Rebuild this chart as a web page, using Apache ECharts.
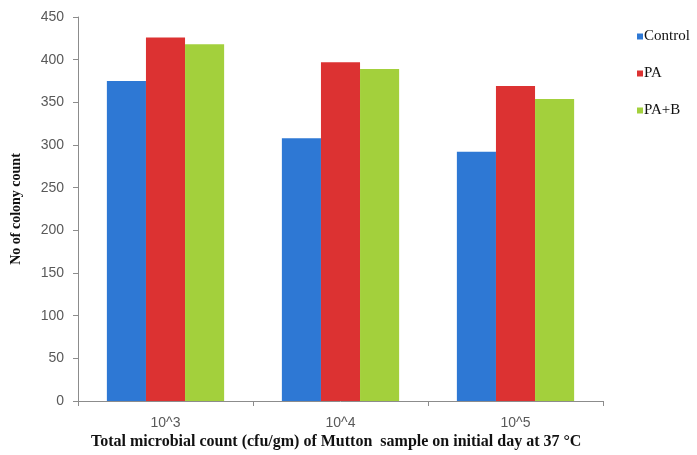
<!DOCTYPE html>
<html>
<head>
<meta charset="utf-8">
<script src="https://cdn.jsdelivr.net/npm/echarts@6/dist/echarts.min.js"></script>
<style>
html,body{margin:0;padding:0;background:#fff;}
#chart{width:697px;height:455px;}
</style>
</head>
<body>
<div id="chart"></div>
<script>
var categories = ['10^3', '10^4', '10^5'];
var control = [375, 308, 292];
var pa = [426, 397, 369];
var paB = [418, 389, 354];
var seriesNames = ['Control', 'PA', 'PA+B'];
var yTicks = [0, 50, 100, 150, 200, 250, 300, 350, 400, 450];

var chart = echarts.init(document.getElementById('chart'));
var axisGrey = '#8c8c8c';
var labelGrey = '#595959';
chart.setOption({
  animation: false,
  backgroundColor: '#ffffff',
  title: {
    text: 'Total microbial count (cfu/gm) of Mutton  sample on initial day at 37 °C',
    left: 91,
    top: 434,
    padding: 0,
    textStyle: { fontFamily: 'Liberation Serif', fontWeight: 'bold', fontSize: 16, color: '#111' }
  },
  legend: {
    orient: 'vertical',
    left: 632,
    top: 24,
    itemWidth: 6,
    itemHeight: 6,
    itemGap: 22,
    icon: 'rect',
    data: seriesNames,
    textStyle: { fontFamily: 'Liberation Serif', fontSize: 15, color: '#111', padding: [0, 0, 0, -4] }
  },
  grid: { left: 78, right: 94, top: 17, bottom: 54, containLabel: false },
  xAxis: {
    type: 'category',
    data: categories,
    axisLine: { lineStyle: { color: axisGrey } },
    axisTick: { show: true, length: 5, lineStyle: { color: axisGrey } },
    axisLabel: { fontFamily: 'Liberation Sans', fontSize: 14, color: labelGrey, margin: 15 }
  },
  yAxis: {
    type: 'value',
    min: yTicks[0],
    max: yTicks[yTicks.length - 1],
    interval: 50,
    name: 'No of colony count',
    nameLocation: 'middle',
    nameGap: 55,
    nameTextStyle: { fontFamily: 'Liberation Serif', fontWeight: 'bold', fontSize: 14, color: '#111' },
    axisLine: { show: true, lineStyle: { color: axisGrey } },
    axisTick: { show: true, length: 5, lineStyle: { color: axisGrey } },
    splitLine: { show: false },
    axisLabel: { fontFamily: 'Liberation Sans', fontSize: 14, color: labelGrey, margin: 14 }
  },
  series: [
    { name: seriesNames[0], type: 'bar', data: control, itemStyle: { color: '#2e78d4' }, barGap: '0%', barCategoryGap: '33%' },
    { name: seriesNames[1], type: 'bar', data: pa, itemStyle: { color: '#dc3232' }, barGap: '0%', barCategoryGap: '33%' },
    { name: seriesNames[2], type: 'bar', data: paB, itemStyle: { color: '#a3d03c' }, barGap: '0%', barCategoryGap: '33%' }
  ]
});
</script>
</body>
</html>
